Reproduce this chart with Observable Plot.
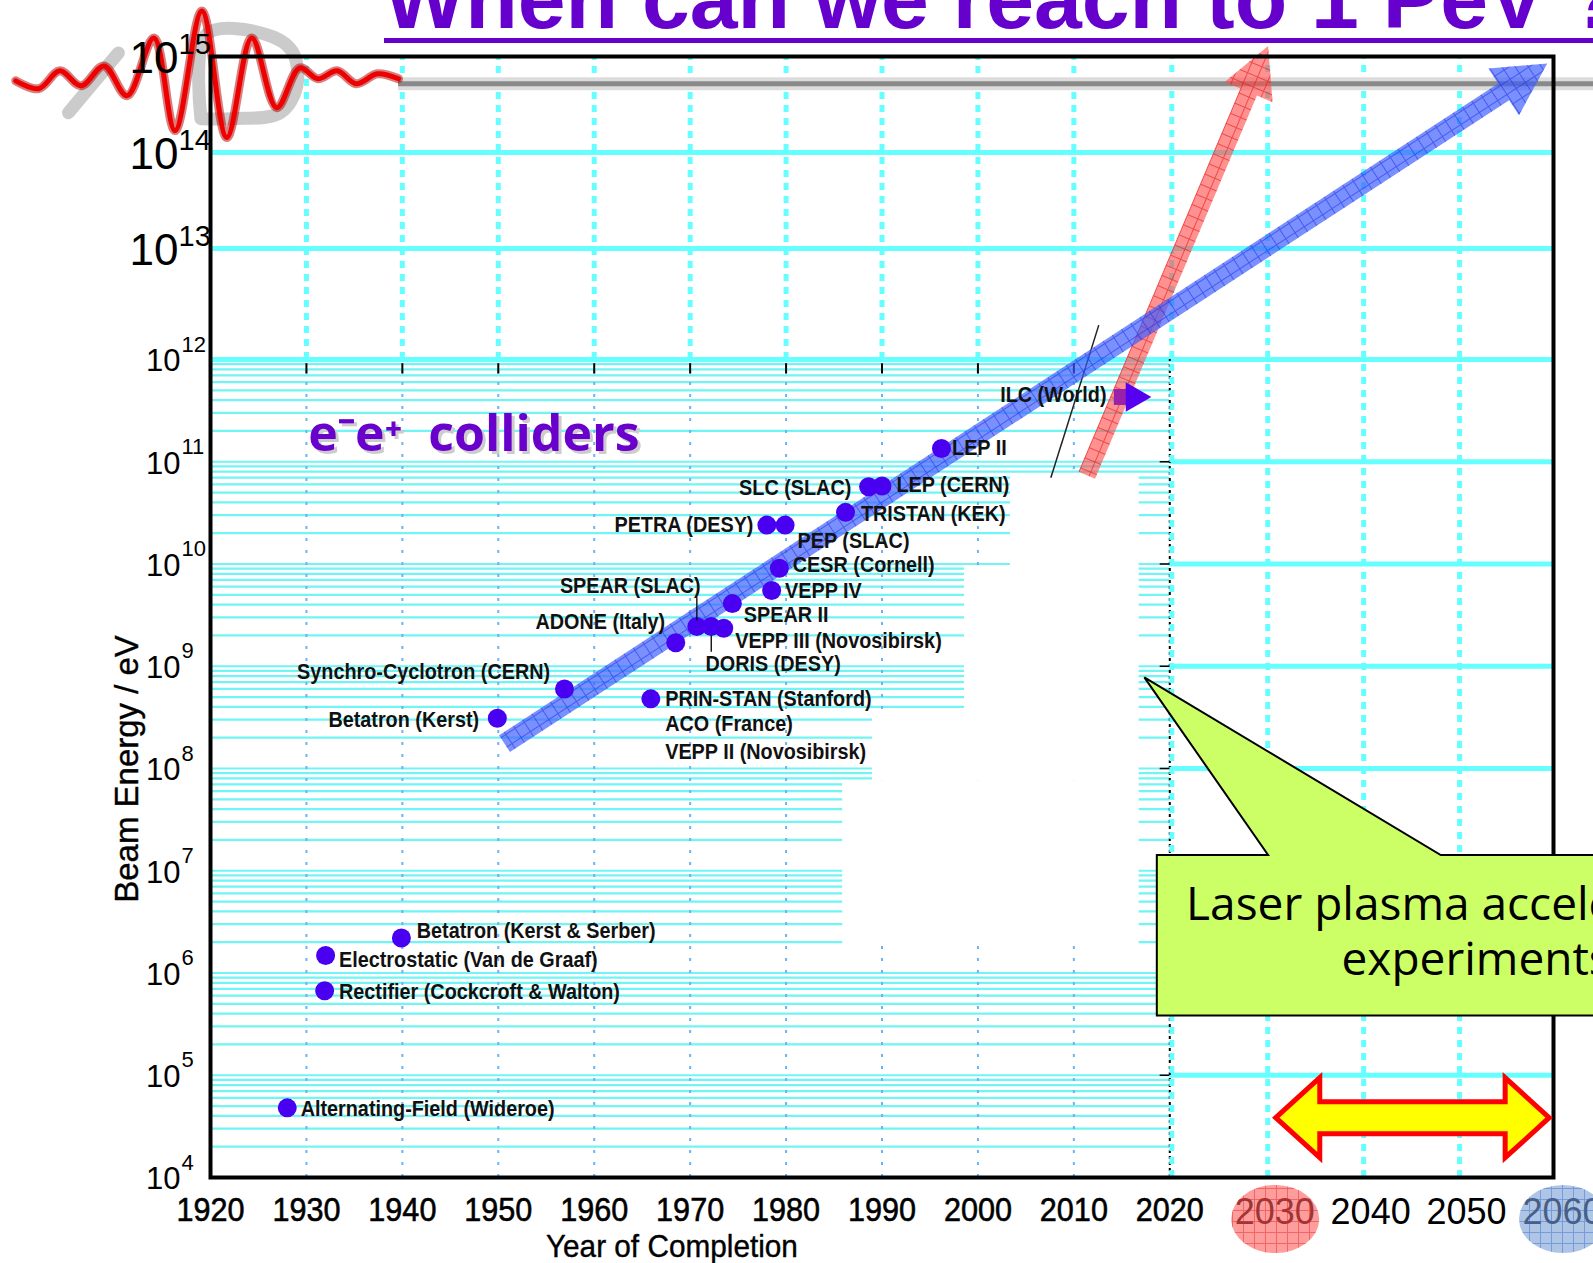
<!DOCTYPE html>
<html><head><meta charset="utf-8">
<script src="https://cdn.jsdelivr.net/npm/d3@7"></script>
<script src="https://cdn.jsdelivr.net/npm/@observablehq/plot@0.6"></script>
<style>
html,body{margin:0;padding:0;background:#fff;overflow:hidden;}
#wrap{position:relative;width:1593px;height:1263px;}
#chart svg{display:block;}
#title{position:absolute;left:384px;top:-45px;font:bold 86px "Liberation Sans",Arial,sans-serif;line-height:86px;color:#6600cc;white-space:nowrap;}
#uline{position:absolute;left:384px;top:38px;width:1300px;height:5px;background:#6600cc;}
</style></head>
<body><div id="wrap"><div id="chart"></div><div id="title">When can we reach to 1 PeV ?</div><div id="uline"></div></div>
<script>
// ---------------- data ----------------
const machineNames = ["Alternating-Field (Wideroe)","Rectifier (Cockcroft & Walton)","Electrostatic (Van de Graaf)","Betatron (Kerst & Serber)","Betatron (Kerst)","Synchro-Cyclotron (CERN)","PRIN-STAN (Stanford)","ADONE (Italy)","SPEAR (SLAC)","DORIS (DESY)","VEPP III (Novosibirsk)","SPEAR II","VEPP IV","CESR (Cornell)","PETRA (DESY)","PEP (SLAC)","TRISTAN (KEK)","SLC (SLAC)","LEP (CERN)","LEP II"];
const machineYears = [1928.0,1931.9,1932.0,1939.9,1949.9,1956.9,1965.9,1968.5,1970.7,1972.2,1973.5,1974.4,1978.5,1979.3,1978.0,1979.9,1986.2,1988.6,1990.0,1996.2];
const machineEnergies = [4.8e4,6.7e5,1.48e6,2.2e6,3.1e8,6.0e8,4.8e8,1.7e9,2.45e9,2.45e9,2.35e9,4.1e9,5.5e9,9.1e9,2.4e10,2.4e10,3.2e10,5.7e10,5.8e10,1.35e11];

const labelTexts = ["Alternating-Field (Wideroe)","Rectifier (Cockcroft & Walton)","Electrostatic (Van de Graaf)","Betatron (Kerst & Serber)","Betatron (Kerst)","Synchro-Cyclotron (CERN)","PRIN-STAN (Stanford)","ACO (France)","VEPP II (Novosibirsk)","ADONE (Italy)","SPEAR (SLAC)","VEPP III (Novosibirsk)","DORIS (DESY)","SPEAR II","VEPP IV","CESR (Cornell)","PEP (SLAC)","PETRA (DESY)","TRISTAN (KEK)","SLC (SLAC)","LEP (CERN)","LEP II","ILC (World)"];
const labelYears = [1929.4,1933.4,1933.4,1941.5,1948.0,1955.4,1967.4,1967.4,1967.4,1967.4,1971.1,1974.7,1971.6,1975.6,1979.9,1980.7,1981.2,1976.6,1987.8,1986.8,1991.5,1997.3,2013.4];
const labelEnergies = [4.7e4,6.5e5,1.34e6,2.6e6,2.96e8,8.7e8,4.8e8,2.7e8,1.45e8,2.7e9,6.1e9,1.77e9,1.05e9,3.2e9,5.5e9,9.7e9,1.69e10,2.43e10,3.06e10,5.56e10,5.94e10,1.36e11,4.5e11];
const labelSides = ["start","start","start","start","end","end","start","start","start","end","end","start","start","start","start","start","start","end","start","end","start","start","end"];

const leaderYears = [1970.7, 1972.2];
const leaderTop = [4.7e9, 2.0e9];
const leaderBottom = [2.8e9, 1.39e9];

const ilcYears = [2015.0, 2016.3];
const ilcEnergy = 4.3e11;

const eeTrendYears = [1950.7, 2059.4];
const eeTrendEnergies = [1.73e8, 8.37e14];
const laserTrendYears = [2011.4, 2030.3];
const laserTrendEnergies = [7.3e10, 1.27e15];
const oldFitYears = [2007.6, 2012.6];
const oldFitEnergies = [6.98e10, 2.04e12];

const yExponents = [4,5,6,7,8,9,10,11,12,13,14,15];
const pastDecades = [1920,1930,1940,1950,1960,1970,1980,1990,2000,2010,2020];
const futureDecades = [2030,2040,2050,2060];
const xTitle = "Year of Completion";
const yTitle = "Beam Energy / eV";

// white patches that hide the old grid (year range, energy range)
const patchX1 = [2003.4, 1998.6, 1989.0, 1985.9];
const patchX2 = [2016.8, 2016.8, 2016.8, 2016.8];
const patchY1 = [9.3e9, 3.7e8, 7.6e7, 1.9e6];
const patchY2 = [7.2e10, 9.3e9, 3.7e8, 7.6e7];

// callout (laser plasma)
const calloutYears = [2018.7, 2030.3, 2017.4, 2048.3, 2070, 2070, 2018.7];
const calloutEnergies = [1.41e7, 1.41e7, 7.7e8, 1.41e7, 1.41e7, 3.8e5, 3.8e5];
const calloutLines = ["Laser plasma acceleration", "experiments"];
const calloutLineYears = [2021.7, 2037.9];
const calloutLineEnergies = [4.6e6, 1.32e6];

// double arrow (time span)
const spanYears = [2031.1, 2059.6];
const spanEnergy = 3.8e4;

// logo (wave and letters)
const logoYears = [1899.7,1902.1,1904.3,1906.5,1908.9,1911.3,1914.1,1916.3,1919.1,1921.7,1924.3,1926.9,1929.3,1931.2,1933.2,1935.2,1937.4,1939.6];
const logoEnergies = [5.58e14,4.62e14,7.10e14,4.95e14,7.98e14,3.90e14,1.56e15,1.69e14,2.97e15,1.43e14,1.56e15,2.93e14,7.62e14,5.86e14,7.10e14,5.20e14,6.61e14,5.86e14];
const letterSlashYears = [1905.2, 1910.4];
const letterSlashEnergies = [2.6e14, 1.09e15];
const letterDYears = [1919.0, 1919.6, 1925.7, 1928.5, 1929.0, 1927.3, 1922.3, 1919.0];
const letterDEnergies = [2.25e14, 1.71e15, 1.71e15, 1.14e15, 4.95e14, 2.60e14, 2.25e14, 2.25e14];
const bandEnergy = 5.2e14;

// ---------------- derived tables ----------------
const machines = machineNames.map((name, i) => ({name, year: machineYears[i], energy: machineEnergies[i]}));
const labels = labelTexts.map((text, i) => ({text, year: labelYears[i], energy: labelEnergies[i], side: labelSides[i]}));
const minorLines = [];
for (let n = 4; n <= 11; n++) for (let k = 1; k <= 9; k++) if (!(n === 4 && k === 1)) minorLines.push(k * Math.pow(10, n));
const decade = e => Math.pow(10, e);
const patches = patchX1.map((x1, i) => ({x1, x2: patchX2[i], y1: patchY1[i], y2: patchY2[i]}));
const logo = logoYears.map((year, i) => ({year, energy: logoEnergies[i]}));
const letterSlash = letterSlashYears.map((year, i) => ({year, energy: letterSlashEnergies[i]}));
const letterD = letterDYears.map((year, i) => ({year, energy: letterDEnergies[i]}));

const FONT = "Liberation Sans, Arial, Helvetica, sans-serif";
const CYAN = "#66ffff";

// ---------------- custom marks ----------------
function arrowPoints(p0, p1, w, hw, hl) {
  const dx = p1[0]-p0[0], dy = p1[1]-p0[1], L = Math.hypot(dx, dy);
  const ux = dx/L, uy = dy/L, nx = -uy, ny = ux;
  const bx = p1[0]-ux*hl, by = p1[1]-uy*hl;
  return [[p0[0]+nx*w, p0[1]+ny*w],[bx+nx*w, by+ny*w],[bx+nx*hw, by+ny*hw],p1,[bx-nx*hw, by-ny*hw],[bx-nx*w, by-ny*w],[p0[0]-nx*w, p0[1]-ny*w]];
}
function gridPattern(defs, id, color, angle) {
  const p = defs.append("pattern").attr("id", id).attr("patternUnits", "userSpaceOnUse")
    .attr("width", 11).attr("height", 11).attr("patternTransform", `rotate(${angle})`);
  p.append("path").attr("d", "M0,0.5H11M0.5,0V11").attr("stroke", color).attr("stroke-width", 1).attr("fill", "none");
}
function trendArrow(years, energies, o) {
  return (index, scales) => {
    const p0 = [scales.x(years[0]), scales.y(energies[0])];
    const p1 = [scales.x(years[1]), scales.y(energies[1])];
    const angle = Math.atan2(p1[1]-p0[1], p1[0]-p0[0]) * 180 / Math.PI;
    const pts = arrowPoints(p0, p1, o.width/2, o.headWidth/2, o.headLength);
    const d = "M" + pts.map(p => p.join(",")).join("L") + "Z";
    const g = d3.create("svg:g");
    gridPattern(g.append("defs"), o.id, o.grid, angle);
    g.append("path").attr("d", d).attr("fill", o.fill).attr("fill-opacity", o.opacity);
    g.append("path").attr("d", d).attr("fill", `url(#${o.id})`).attr("opacity", 0.55);
    return g.node();
  };
}
function callout(index, scales) {
  const pts = calloutYears.map((yr, i) => [scales.x(yr), scales.y(calloutEnergies[i])]);
  return d3.create("svg:path").attr("d", d3.line()(pts) + "Z").attr("fill", "#ccff66").attr("stroke", "black").attr("stroke-width", 2).node();
}
function spanArrow(index, scales) {
  const x1 = scales.x(spanYears[0]), x2 = scales.x(spanYears[1]), y = scales.y(spanEnergy);
  const sh = 16, hh = 40, hl = 44;
  const pts = [[x1,y],[x1+hl,y-hh],[x1+hl,y-sh],[x2-hl,y-sh],[x2-hl,y-hh],[x2,y],[x2-hl,y+hh],[x2-hl,y+sh],[x1+hl,y+sh],[x1+hl,y+hh]];
  return d3.create("svg:path").attr("d", "M" + pts.map(p => p.join(",")).join("L") + "Z")
    .attr("fill", "#ffff00").attr("stroke", "#ff0000").attr("stroke-width", 5).attr("stroke-linejoin", "miter").node();
}
function yearBubbles(index, scales, values, dims) {
  const g = d3.create("svg:g");
  const defs = g.append("defs");
  gridPattern(defs, "gridRed", "#dd2222", 0);
  gridPattern(defs, "gridBlue", "#3366cc", 0);
  const cy = dims.height - dims.marginBottom + 42;
  [[futureDecades[0], "#ff5a5a", "gridRed"], [futureDecades[3], "#7a9fd6", "gridBlue"]].forEach(([yr, c, pid]) => {
    const cx = scales.x(yr) + 10;
    g.append("ellipse").attr("cx", cx).attr("cy", cy).attr("rx", 44).attr("ry", 34).attr("fill", c).attr("fill-opacity", 0.6);
    g.append("ellipse").attr("cx", cx).attr("cy", cy).attr("rx", 44).attr("ry", 34).attr("fill", `url(#${pid})`).attr("opacity", 0.45);
  });
  return g.node();
}

// ---------------- plot ----------------
const chart = Plot.plot({
  width: 1593, height: 1263,
  marginLeft: 210, marginRight: 40, marginTop: 56, marginBottom: 86,
  x: {domain: [1920, 2060], axis: null},
  y: {type: "log", domain: [1e4, 1e12, 1e13, 1e14, 1e15], range: [1177, 359, 248, 152, 56], axis: null},
  style: {background: "white", overflow: "hidden"},
  marks: [
    // old chart minor grid (left, below 1e12)
    Plot.ruleY(minorLines, {x1: 1920, x2: 2020, stroke: "#70f4f4", strokeWidth: 2.2}),
    Plot.ruleX(pastDecades.slice(1, 10), {y1: 1e4, y2: 1e12, stroke: "#6fb2ee", strokeWidth: 2, strokeDasharray: "3,9"}),
    // future grid
    Plot.ruleY([1e12, 1e13, 1e14], {x1: 1920, x2: 2060, stroke: CYAN, strokeWidth: 5}),
    Plot.ruleY(yExponents.slice(1, 8).map(decade), {x1: 2020, x2: 2060, stroke: CYAN, strokeWidth: 5}),
    Plot.ruleX(pastDecades.slice(1, 10), {y1: 1e12, y2: 1e15, stroke: CYAN, strokeWidth: 5, strokeDasharray: "7,6"}),
    Plot.ruleX([pastDecades[10]], {y1: 1e4, y2: 1e12, stroke: "black", strokeWidth: 2, strokeDasharray: "3,3"}),
    Plot.ruleX([pastDecades[10], ...futureDecades.slice(0, 3)], {y1: 1e4, y2: 1e15, stroke: CYAN, strokeWidth: 5, strokeDasharray: "7,6", dx: 2}),
    // pasted white areas
    Plot.rect(patches, {x1: "x1", x2: "x2", y1: "y1", y2: "y2", fill: "white"}),
    // old chart small ticks
    Plot.ruleX(pastDecades.slice(1, 10), {y1: 7.2e11, y2: 9.1e11, stroke: "black", strokeWidth: 2}),
    Plot.ruleY(yExponents.slice(1, 8).map(decade), {x1: 2019, x2: 2020, stroke: "black", strokeWidth: 1.5}),
    Plot.link([0], {x1: oldFitYears[0], y1: oldFitEnergies[0], x2: oldFitYears[1], y2: oldFitEnergies[1], stroke: "#222", strokeWidth: 1.5}),
    // logo and band
    Plot.ruleY([bandEnergy], {x1: 1939.6, x2: 2066, stroke: "#dcdcdc", strokeWidth: 13}),
    Plot.ruleY([bandEnergy], {x1: 1939.6, x2: 2066, stroke: "#8a8a8a", strokeWidth: 5}),
    Plot.line(letterSlash, {x: "year", y: "energy", stroke: "#a0a0a0", strokeWidth: 13, strokeOpacity: 0.55}),
    Plot.line(letterD, {x: "year", y: "energy", curve: "catmull-rom", stroke: "#a0a0a0", strokeWidth: 13, strokeOpacity: 0.55}),
    Plot.line(logo, {x: "year", y: "energy", curve: "catmull-rom", stroke: "#b00000", strokeWidth: 9, strokeOpacity: 0.5}),
    Plot.line(logo, {x: "year", y: "energy", curve: "catmull-rom", stroke: "#ee0000", strokeWidth: 5}),
    // laser trend (red)
    trendArrow(laserTrendYears, laserTrendEnergies, {width: 18, headWidth: 52, headLength: 50, fill: "#ff4d4d", grid: "#e01010", opacity: 0.62, id: "gridLaser"}),
    // ILC
    Plot.dot([0], {x: ilcYears[0], y: ilcEnergy, symbol: "square", r: 9, fill: "#9922aa"}),
    Plot.dot([0], {x: ilcYears[1], y: ilcEnergy, symbol: "triangle", rotate: 90, r: 11, fill: "#5500ee"}),
    // e+e- trend (blue)
    trendArrow(eeTrendYears, eeTrendEnergies, {width: 20, headWidth: 56, headLength: 52, fill: "#3d5cff", grid: "#1a2ee0", opacity: 0.68, id: "gridEE"}),
    // machines
    Plot.dot(machines, {x: "year", y: "energy", r: 9.5, fill: "#4a00f0"}),
    Plot.link(leaderYears, {x1: d => d, x2: d => d, y1: (d, i) => leaderTop[i], y2: (d, i) => leaderBottom[i], stroke: "black", strokeWidth: 1.3}),
    Plot.text(labels.filter(d => d.side === "start"), {x: "year", y: "energy", text: "text", textAnchor: "start", fontSize: 22, fontWeight: "bold", fontFamily: FONT, fill: "#111"}),
    Plot.text(labels.filter(d => d.side === "end"), {x: "year", y: "energy", text: "text", textAnchor: "end", fontSize: 22, fontWeight: "bold", fontFamily: FONT, fill: "#111"}),
    // e-e+ colliders
    Plot.text([0], {x: 1930.2, y: 1.83e11, text: () => "e\u207Be\u207A  colliders", textAnchor: "start", fontSize: 50, fontWeight: "bold", fontFamily: "Open Sans, sans-serif", fill: "#cccccc", dx: 3, dy: 3}),
    Plot.text([0], {x: 1930.2, y: 1.83e11, text: () => "e\u207Be\u207A  colliders", textAnchor: "start", fontSize: 50, fontWeight: "bold", fontFamily: "Open Sans, sans-serif", fill: "#6a00cc"}),
    // frame
    Plot.frame({stroke: "black", strokeWidth: 4}),
    // callout and span
    callout,
    Plot.text(calloutLines, {x: (d, i) => calloutLineYears[i], y: (d, i) => calloutLineEnergies[i], text: d => d, textAnchor: "start", fontSize: 46, fontFamily: "Open Sans, sans-serif", fill: "black"}),
    spanArrow,
    // y tick labels
    Plot.text(yExponents.filter(e => e <= 12).map(decade), {y: d => d, frameAnchor: "left", text: () => "10", textAnchor: "end", lineAnchor: "middle", dx: -30, dy: 2, fontSize: 31, fontFamily: FONT, fill: "black"}),
    Plot.text(yExponents.filter(e => e <= 12), {y: decade, frameAnchor: "left", text: d => String(d), textAnchor: "start", lineAnchor: "middle", dx: -29, dy: -15, fontSize: 22, fontFamily: FONT, fill: "black"}),
    Plot.text(yExponents.filter(e => e > 12).map(decade), {y: d => d, frameAnchor: "left", text: () => "10", textAnchor: "end", lineAnchor: "middle", dx: -32, dy: 2, fontSize: 44, fontFamily: FONT, fill: "black"}),
    Plot.text(yExponents.filter(e => e > 12), {y: decade, frameAnchor: "left", text: d => String(d), textAnchor: "start", lineAnchor: "middle", dx: -32, dy: -12, fontSize: 29, fontFamily: FONT, fill: "black"}),
    // x tick labels
    Plot.text(pastDecades, {x: d => d, frameAnchor: "bottom", text: d => String(d), textAnchor: "middle", lineAnchor: "middle", dy: 33, fontSize: 34, fontFamily: FONT, fill: "black", stroke: "black", strokeWidth: 0.6}),
    Plot.text(futureDecades, {x: d => d, frameAnchor: "bottom", text: d => String(d), textAnchor: "middle", lineAnchor: "middle", dx: 9, dy: 35, fontSize: 36, fontFamily: FONT, fill: "black"}),
    yearBubbles,
    // axis titles
    Plot.text([xTitle], {x: 1968.1, frameAnchor: "bottom", text: d => d, textAnchor: "middle", lineAnchor: "middle", dy: 69, fontSize: 32, fontFamily: FONT, fill: "black", stroke: "black", strokeWidth: 0.4}),
    Plot.text([yTitle], {y: 9.9e7, frameAnchor: "left", text: d => d, rotate: -90, textAnchor: "middle", lineAnchor: "middle", dx: -83, fontSize: 34, fontFamily: FONT, fill: "black", stroke: "black", strokeWidth: 0.4})
  ]
});
document.getElementById("chart").appendChild(chart);

// condense the old-chart lettering (narrow Helvetica look)
const condense = new Map();
labelTexts.forEach(t => condense.set(t, 0.9));
pastDecades.forEach(t => condense.set(String(t), 0.9));
condense.set(xTitle, 0.93);
condense.set(yTitle, 0.97);
chart.querySelectorAll("text").forEach(t => {
  const f = condense.get(t.textContent);
  if (f === undefined) return;
  const w = t.getComputedTextLength();
  t.setAttribute("textLength", (w * f).toFixed(1));
  t.setAttribute("lengthAdjust", "spacingAndGlyphs");
});
</script>
</body></html>
